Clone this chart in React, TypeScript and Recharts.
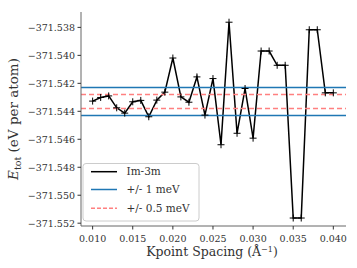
import React from 'react';
import {
  ComposedChart, Line, XAxis, YAxis, ReferenceLine, Customized,
} from 'recharts';

// ---- data ----
const kpointSpacing = [
  0.010, 0.011, 0.012, 0.013, 0.014, 0.015, 0.016, 0.017, 0.018, 0.019,
  0.020, 0.021, 0.022, 0.023, 0.024, 0.025, 0.026, 0.027, 0.028, 0.029,
  0.030, 0.031, 0.032, 0.033, 0.034, 0.035, 0.036, 0.037, 0.038, 0.039, 0.040,
];
const energyIm3m = [
  -371.54327, -371.54301, -371.54290, -371.54375, -371.54413, -371.54332, -371.54322, -371.54439, -371.54320, -371.54263,
  -371.54019, -371.54297, -371.54335, -371.54154, -371.54427, -371.54166, -371.54639, -371.53763, -371.54557, -371.54237,
  -371.54592, -371.53969, -371.53969, -371.54071, -371.54071, -371.55163, -371.55163, -371.53817, -371.53817, -371.54268, -371.54268,
];
const oneMeVBand = [-371.5423, -371.5443];
const halfMeVBand = [-371.5428, -371.5438];
const xTicks = [0.010, 0.015, 0.020, 0.025, 0.030, 0.035, 0.040];
const yTicks = [-371.538, -371.540, -371.542, -371.544, -371.546, -371.548, -371.550, -371.552];
const xDomain = [0.00855, 0.04158];
const yDomain = [-371.5522, -371.5369];
const legendLabels = ['Im-3m', '+/- 1 meV', '+/- 0.5 meV'];

const data = kpointSpacing.map((k, i) => ({ k, e: energyIm3m[i] }));

const BLUE = '#1f77b4';
const RED = '#ff8080';
const FONT = '"DejaVu Serif", serif';
const TEXT = '#333';

const fmt = (v: number) => v.toFixed(3).replace('-', '\u2212');

const PlusDot = (props: any) => {
  const { cx, cy, key } = props;
  if (cx == null || cy == null) return null;
  return (
    <path key={key} d={`M${cx - 3.5},${cy}h7M${cx},${cy - 3.5}v7`} stroke="#000" strokeWidth={1} fill="none" />
  );
};

const Overlay = () => {
  const rows = [
    { label: legendLabels[0], color: '#000', dash: undefined as string | undefined },
    { label: legendLabels[1], color: BLUE, dash: undefined },
    { label: legendLabels[2], color: RED, dash: '4 2' },
  ];
  const rowY = [171.7, 189.5, 208.3];
  return (
    <g>
      <rect x={83} y={163.5} width={116} height={57.5} rx={3} ry={3} fill="#fff" fillOpacity={0.8} stroke="#cccccc" strokeWidth={1} />
      {rows.map((r, i) => (
        <g key={r.label}>
          <line x1={91} x2={117} y1={rowY[i]} y2={rowY[i]} stroke={r.color} strokeWidth={1.5} strokeDasharray={r.dash} />
          <text x={126.5} y={rowY[i]} dy="0.35em" fontFamily={FONT} fontSize={10.5} fill={TEXT}>{r.label}</text>
        </g>
      ))}
      <text x={212} y={256} textAnchor="middle" fontFamily={FONT} fontSize={12.5} fill={TEXT}>
        Kpoint Spacing (Å<tspan fontSize={8} dy={-4.5}>−1</tspan><tspan dy={4.5}>)</tspan>
      </text>
      <text x={18} y={119} transform="rotate(-90 18 119)" textAnchor="middle" fontFamily={FONT} fontSize={13.5} fill={TEXT}>
        <tspan fontStyle="italic">E</tspan><tspan fontSize={9.5} dy={3}>tot</tspan><tspan dy={-3}> (eV per atom)</tspan>
      </text>
    </g>
  );
};

export default function App() {
  const tickStyle = { fontFamily: FONT, fontSize: 9.5, fill: TEXT };
  return (
    <div style={{ position: 'absolute', left: 0, top: 0, width: 357, height: 268, background: '#fff' }}>
      <ComposedChart width={357} height={268} data={data} margin={{ top: 12, right: 11, bottom: 0, left: 0 }}>
        <XAxis
          dataKey="k" type="number" domain={xDomain} allowDataOverflow ticks={xTicks}
          tickFormatter={fmt} height={42} tick={tickStyle} tickSize={3.5} tickMargin={5.5}
          axisLine={{ stroke: '#666', strokeWidth: 1 }} tickLine={{ stroke: '#333' }}
        />
        <XAxis xAxisId="top" dataKey="k" type="number" orientation="top" domain={xDomain} allowDataOverflow
          height={0} tick={false} tickLine={false} axisLine={{ stroke: '#666', strokeWidth: 1 }} />
        <YAxis
          type="number" domain={yDomain} allowDataOverflow ticks={yTicks} tickFormatter={fmt}
          width={81} tick={tickStyle} tickSize={3.5} tickMargin={2.5}
          axisLine={{ stroke: '#666', strokeWidth: 1 }} tickLine={{ stroke: '#333' }}
        />
        <YAxis yAxisId="right" orientation="right" type="number" domain={yDomain} allowDataOverflow
          width={0} tick={false} tickLine={false} axisLine={{ stroke: '#666', strokeWidth: 1 }} />
        <Line dataKey="e" type="linear" stroke="#000" strokeWidth={1.5} dot={PlusDot} activeDot={false} isAnimationActive={false} />
        {oneMeVBand.map((v) => (
          <ReferenceLine key={'b' + v} y={v} stroke={BLUE} strokeWidth={1.5} />
        ))}
        {halfMeVBand.map((v) => (
          <ReferenceLine key={'r' + v} y={v} stroke={RED} strokeWidth={1.5} strokeDasharray="5 3" />
        ))}
        <Customized component={Overlay} />
      </ComposedChart>
    </div>
  );
}
